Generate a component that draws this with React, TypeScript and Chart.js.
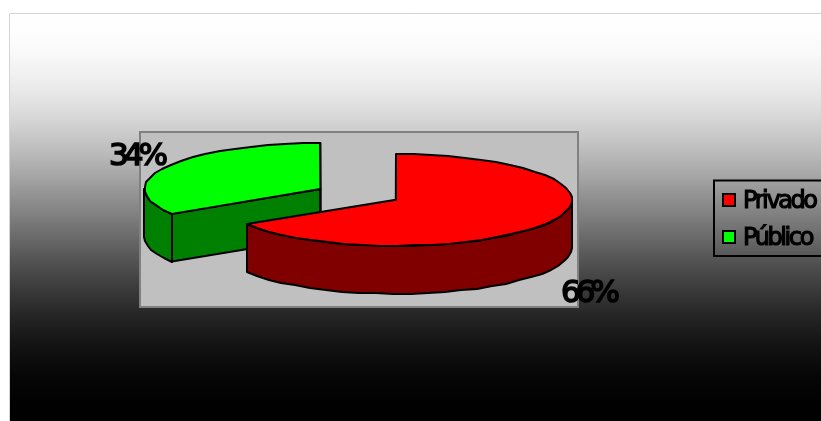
import React, { useEffect, useRef } from "react";
import { Chart, registerables } from "chart.js";

Chart.register(...registerables);

const categories = ["Privado", "Público"];
const values = [66, 34];
const topColors = ["#ff0000", "#00ff00"];
const sideColors = ["#800000", "#008000"];
const explode = [42, 44];

const SQUASH = 0.261;
const DEPTH = 48;
const LIFT = 25;
const FONT = '"DejaVu Sans"';

function outline(x: number, y: number, r: number, a0: number, a1: number) {
  const n = Math.max(1, Math.round((a1 - a0) / 0.1));
  const pts: [number, number][] = [];
  for (let i = 0; i <= n; i++) {
    const a = a0 + ((a1 - a0) * i) / n;
    pts.push([Math.round(x + r * Math.cos(a)), Math.round(y + r * SQUASH * Math.sin(a))]);
  }
  return pts;
}

function poly(ctx: CanvasRenderingContext2D, pts: [number, number][], fill: string) {
  ctx.beginPath();
  pts.forEach(([x, y], i) => (i ? ctx.lineTo(x, y) : ctx.moveTo(x, y)));
  ctx.closePath();
  ctx.fillStyle = fill;
  ctx.fill();
  ctx.stroke();
}

const pie3d = {
  id: "pie3d",
  beforeDraw(chart: any) {
    const { ctx, width, height, chartArea: a } = chart;
    ctx.save();
    ctx.fillStyle = "#ffffff";
    ctx.fillRect(0, 0, width, height);
    const g = ctx.createLinearGradient(0, 13, 0, height - 4);
    for (let i = 0; i <= 20; i++) {
      const t = i / 20;
      const v = Math.round((255 * (1 + Math.cos(Math.PI * t))) / 2);
      g.addColorStop(t, `rgb(${v},${v},${v})`);
    }
    ctx.fillStyle = g;
    ctx.fillRect(9, 13, width - 9, height - 13);
    ctx.strokeStyle = "#d4d4d4";
    ctx.lineWidth = 1;
    ctx.beginPath();
    ctx.moveTo(9.5, height);
    ctx.lineTo(9.5, 13.5);
    ctx.lineTo(width, 13.5);
    ctx.stroke();
    ctx.fillStyle = "#c0c0c0";
    ctx.fillRect(a.left, a.top, a.width, a.height);
    ctx.strokeStyle = "#808080";
    ctx.lineWidth = 2;
    ctx.strokeRect(a.left, a.top, a.width, a.height);
    ctx.restore();
  },
  beforeDatasetsDraw(chart: any) {
    const { ctx } = chart;
    const arcs = chart.getDatasetMeta(0).data;
    ctx.save();
    ctx.strokeStyle = "#000000";
    ctx.lineWidth = 2;
    ctx.lineJoin = "round";
    const order = arcs.map((_: any, i: number) => i).reverse();
    for (const i of order) {
      const arc = arcs[i];
      const { startAngle: s, endAngle: e, outerRadius: r } = arc;
      const mid = (s + e) / 2;
      const off = arc.options.offset;
      const cx = arc.x + off * Math.cos(mid);
      const cy = arc.y - LIFT + off * SQUASH * Math.sin(mid);
      const px = (t: number): [number, number] => [
        cx + r * Math.cos(t),
        cy + r * SQUASH * Math.sin(t),
      ];
      const down = (p: [number, number]): [number, number] => [p[0], p[1] + DEPTH];
      if (Math.cos(s) < 0) {
        const q = px(s);
        poly(ctx, [[cx, cy], q, down(q), [cx, cy + DEPTH]], sideColors[i]);
      }
      if (Math.cos(e) > 0) {
        const q = px(e);
        poly(ctx, [[cx, cy], q, down(q), [cx, cy + DEPTH]], sideColors[i]);
      }
      const w0 = Math.max(s, 0);
      const w1 = Math.min(e, Math.PI);
      if (w1 > w0) {
        const top = outline(cx, cy, r, w0, w1);
        poly(ctx, [...top, ...top.map(down).reverse()], sideColors[i]);
      }
      poly(ctx, [[cx, cy], ...outline(cx, cy, r, s, e)], topColors[i]);
    }
    ctx.restore();
    return false;
  },
  afterDraw(chart: any) {
    const { ctx, width } = chart;
    const total = values.reduce((p, v) => p + v, 0);
    ctx.save();
    ctx.fillStyle = "#000000";
    ctx.strokeStyle = "#000000";
    ctx.textBaseline = "alphabetic";
    ctx.textAlign = "left";

    // percentage labels
    ctx.font = `31px ${FONT}`;
    ctx.letterSpacing = "-5px";
    ctx.lineWidth = 1.6;
    const labelAt: [number, number][] = [
      [561, 302],
      [109, 165],
    ];
    values.forEach((v, i) => {
      const t = `${Math.round((v / total) * 100)}%`;
      ctx.fillText(t, labelAt[i][0], labelAt[i][1]);
      ctx.strokeText(t, labelAt[i][0], labelAt[i][1]);
    });

    // legend
    ctx.lineWidth = 2;
    ctx.strokeRect(714, 180.5, width, 75.5);
    ctx.font = `24px ${FONT}`;
    ctx.letterSpacing = "-2.4px";
    categories.forEach((c, i) => {
      const y = 194 + i * 37;
      ctx.fillStyle = topColors[i];
      ctx.lineWidth = 2;
      ctx.fillRect(723, y, 12, 12);
      ctx.strokeRect(723, y, 12, 12);
      ctx.fillStyle = "#000000";
      ctx.lineWidth = 1.2;
      ctx.fillText(c, 743, y + 14);
      ctx.strokeText(c, 743, y + 14);
    });
    ctx.restore();
  },
};

export default function App() {
  const ref = useRef<HTMLCanvasElement>(null);
  useEffect(() => {
    document.body.style.margin = "0";
    const chart = new Chart(ref.current!, {
      type: "pie",
      data: {
        labels: categories,
        datasets: [{ data: values, backgroundColor: topColors, offset: explode, borderWidth: 0 }],
      },
      options: {
        animation: false,
        responsive: false,
        radius: 176,
        layout: { padding: { left: 140, right: 243, top: 132, bottom: 114 } },
        plugins: { legend: { display: false }, tooltip: { enabled: false } },
      } as any,
      plugins: [pie3d],
    });
    return () => chart.destroy();
  }, []);
  return <canvas ref={ref} width={821} height={421} style={{ display: "block" }} />;
}
